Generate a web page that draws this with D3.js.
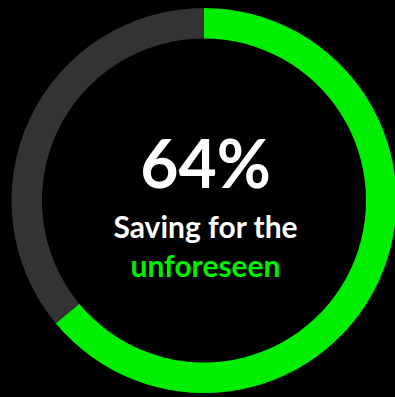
<!DOCTYPE html>
<html>
<head>
<meta charset="utf-8">
<script src="https://cdn.jsdelivr.net/npm/d3@7"></script>
<style>
  html, body { margin: 0; padding: 0; background: #000; }
  svg { display: block; }
</style>
</head>
<body>
<svg id="chart" width="395" height="397"></svg>
<script>
// Share of people saving for the unforeseen
const categories = ["Saving", "Not saving"];
const values = [64, 36];
const colors = ["#00ee00", "#333333"];
const headline = "64%";
const captionLines = ["Saving for the", "unforeseen"];

const W = 395, H = 397;
const cx = 204, cy = 200.5;
const outerR = 192.5, innerR = 162;

const svg = d3.select("#chart");
svg.append("rect").attr("width", W).attr("height", H).attr("fill", "#000");

const pie = d3.pie().sort(null).value(d => d.value);
const arc = d3.arc().innerRadius(innerR).outerRadius(outerR);
const data = categories.map((c, i) => ({ name: c, value: values[i], color: colors[i] }));

const g = svg.append("g").attr("transform", `translate(${cx},${cy})`);
g.selectAll("path")
  .data(pie(data))
  .join("path")
  .attr("d", arc)
  .attr("fill", d => d.data.color);

const font = "Lato, 'Open Sans', sans-serif";
g.append("text")
  .attr("x", 1.5)
  .attr("y", -13)
  .attr("text-anchor", "middle")
  .attr("font-family", font)
  .attr("font-weight", 700)
  .attr("font-size", 66)
  .attr("fill", "#fff")
  .text(headline);

g.append("text")
  .attr("x", 1.5)
  .attr("y", 37.5)
  .attr("text-anchor", "middle")
  .attr("font-family", font)
  .attr("font-weight", 700)
  .attr("font-size", 30)
  .attr("fill", "#fff")
  .text(captionLines[0]);

g.append("text")
  .attr("x", 1.5)
  .attr("y", 76.5)
  .attr("text-anchor", "middle")
  .attr("font-family", font)
  .attr("font-weight", 700)
  .attr("font-size", 30)
  .attr("fill", colors[0])
  .text(captionLines[1]);
</script>
</body>
</html>
